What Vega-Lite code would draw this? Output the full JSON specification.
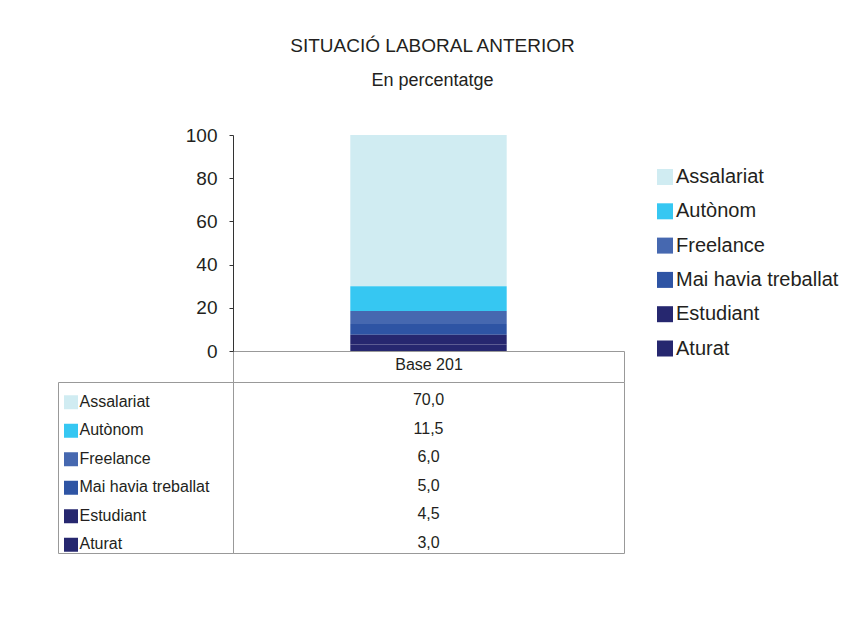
{
  "$schema": "https://vega.github.io/schema/vega-lite/v6.json",
  "background": "white",
  "padding": {"left": 57, "top": 37, "right": 0, "bottom": 0},
  "datasets": {
    "rows": [
      {"categoria": "Assalariat", "valor": 70.0, "base": "Base 201"},
      {"categoria": "Autònom", "valor": 11.5, "base": "Base 201"},
      {"categoria": "Freelance", "valor": 6.0, "base": "Base 201"},
      {"categoria": "Mai havia treballat", "valor": 5.0, "base": "Base 201"},
      {"categoria": "Estudiant", "valor": 4.5, "base": "Base 201"},
      {"categoria": "Aturat", "valor": 3.0, "base": "Base 201"}
    ]
  },
  "config": {
    "view": {"stroke": null},
    "font": "Liberation Sans",
    "locale": {"number": {"decimal": ",", "thousands": ".", "grouping": [3], "currency": ["", " €"]}}
  },
  "bounds": "flush",
  "columns": 2,
  "spacing": {"row": 31, "column": 0},
  "resolve": {
    "scale": {"x": "independent", "y": "independent", "color": "independent"},
    "legend": {"color": "independent"}
  },
  "concat": [
    {
      "width": 175,
      "height": 216,
      "data": {"values": []},
      "mark": "text",
      "encoding": {}
    },
    {
      "width": 391,
      "height": 216,
      "data": {"name": "rows"},
      "title": {
        "text": "SITUACIÓ LABORAL ANTERIOR",
        "subtitle": "En percentatge",
        "anchor": "middle",
        "frame": "group",
        "font": "Liberation Sans",
        "fontSize": 19,
        "fontWeight": "normal",
        "color": "#231F20",
        "subtitleFont": "Liberation Sans",
        "subtitleFontSize": 18,
        "subtitleColor": "#231F20",
        "subtitlePadding": 16,
        "offset": 36,
        "dx": 4
      },
      "mark": {"type": "bar", "width": {"band": 0.4}},
      "encoding": {
        "x": {
          "field": "base",
          "type": "nominal",
          "scale": {"paddingInner": 0, "paddingOuter": 0},
          "axis": {
            "title": null,
            "tickBand": "extent",
            "ticks": true,
            "tickSize": 31,
            "tickColor": "#999999",
            "domainColor": "#999999",
            "labelAngle": 0,
            "labelFontSize": 16,
            "labelColor": "#231F20",
            "labelPadding": -26
          }
        },
        "y": {
          "field": "valor",
          "type": "quantitative",
          "stack": "zero",
          "scale": {"domain": [0, 100], "nice": false},
          "axis": {
            "values": [0, 20, 40, 60, 80, 100],
            "title": null,
            "grid": false,
            "labelFontSize": 19,
            "labelPadding": 12,
            "tickSize": 4,
            "domainColor": "#333333",
            "tickColor": "#333333",
            "labelColor": "#231F20"
          }
        },
        "color": {
          "field": "categoria",
          "type": "nominal",
          "scale": {
            "domain": ["Assalariat", "Autònom", "Freelance", "Mai havia treballat", "Estudiant", "Aturat"],
            "range": ["#D0ECF2", "#36C7F2", "#4668B0", "#2E54A4", "#26276F", "#26276F"]
          },
          "legend": {
            "title": null,
            "orient": "none",
            "legendX": 422,
            "legendY": 32,
            "symbolType": "square",
            "symbolSize": 256,
            "symbolStrokeWidth": 0,
            "labelFontSize": 20,
            "labelColor": "#231F20",
            "labelOffset": 1,
            "labelLimit": 300,
            "rowPadding": 14.3,
            "padding": 0
          }
        },
        "order": {"field": "valor", "sort": "ascending"}
      }
    },
    {
      "width": 175,
      "height": 171,
      "view": {"stroke": "#999999"},
      "data": {"name": "rows"},
      "mark": {"type": "point", "shape": "square", "filled": true, "size": 196, "opacity": 1, "yOffset": 6},
      "encoding": {
        "x": {"value": 13},
        "y": {
          "field": "categoria",
          "type": "nominal",
          "scale": {
            "domain": ["Assalariat", "Autònom", "Freelance", "Mai havia treballat", "Estudiant", "Aturat"],
            "paddingInner": 0,
            "paddingOuter": 0
          },
          "axis": {
            "orient": "left",
            "title": null,
            "ticks": false,
            "tickSize": 0,
            "domain": false,
            "labelAlign": "left",
            "labelBaseline": "middle",
            "labelPadding": -21,
            "labelOffset": 5,
            "labelFontSize": 16,
            "labelColor": "#231F20",
            "labelOverlap": false,
            "labelBound": false,
            "labelLimit": 0
          }
        },
        "color": {
          "field": "categoria",
          "type": "nominal",
          "scale": {
            "domain": ["Assalariat", "Autònom", "Freelance", "Mai havia treballat", "Estudiant", "Aturat"],
            "range": ["#D0ECF2", "#36C7F2", "#4668B0", "#2E54A4", "#26276F", "#26276F"]
          },
          "legend": null
        }
      }
    },
    {
      "width": 391,
      "height": 171,
      "view": {"stroke": "#999999"},
      "data": {"name": "rows"},
      "mark": {"type": "text", "fontSize": 16, "baseline": "middle", "dy": 4, "color": "#231F20"},
      "encoding": {
        "x": {
          "field": "base",
          "type": "nominal",
          "scale": {"paddingInner": 0, "paddingOuter": 0},
          "axis": null
        },
        "y": {
          "field": "categoria",
          "type": "nominal",
          "scale": {
            "domain": ["Assalariat", "Autònom", "Freelance", "Mai havia treballat", "Estudiant", "Aturat"],
            "paddingInner": 0,
            "paddingOuter": 0
          },
          "axis": null
        },
        "text": {"field": "valor", "type": "quantitative", "format": ".1f"}
      }
    }
  ]
}
